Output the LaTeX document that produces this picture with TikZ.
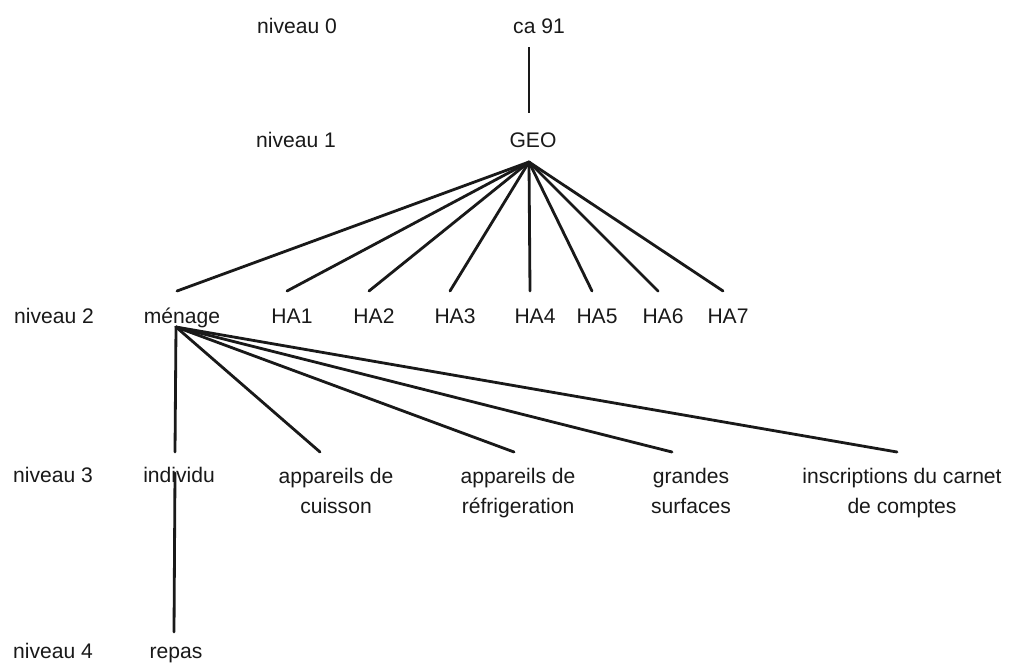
\documentclass[tikz,border=0pt]{standalone}
\usepackage{fontspec}
\setmainfont{Liberation Sans}
\usetikzlibrary{calc}
\tikzset{
    lbl/.style={anchor=base, inner sep=0pt, text=black!90, font=\fontsize{12}{17}\selectfont},
    twoline/.style={lbl, align=center},
    link/.style={line width=1.6pt, line cap=round, black!90},
    thinlink/.style={line width=1.1pt, black!90}
}
\begin{document}
\begin{tikzpicture}[x=0.02cm, y=-0.02cm]
    \useasboundingbox (0,0) rectangle (1010,667);
    % niveaux
    \node[lbl] (niv0) at (297,33) {niveau 0};
    \node[lbl] (niv1) at (296,147) {niveau 1};
    \node[lbl] (niv2) at (54,323) {niveau 2};
    \node[lbl] (niv3) at (53,482) {niveau 3};
    \node[lbl] (niv4) at (53,658) {niveau 4};
    % arbre
    \node[lbl] (ca91) at (539,33) {ca 91};
    \node[lbl] (geo) at (533,147) {GEO};
    \node[lbl] (menage) at (182,323) {ménage};
    \node[lbl] (ha1) at (292,323) {HA1};
    \node[lbl] (ha2) at (374,323) {HA2};
    \node[lbl] (ha3) at (455,323) {HA3};
    \node[lbl] (ha4) at (535,323) {HA4};
    \node[lbl] (ha5) at (597,323) {HA5};
    \node[lbl] (ha6) at (663,323) {HA6};
    \node[lbl] (ha7) at (728,323) {HA7};
    \node[lbl] (individu) at (179,482) {individu};
    % base = second line for two-line labels
    \node[twoline] (cuisson) at (336,513) {appareils de\\cuisson};
    \node[twoline] (refrig) at (518,513) {appareils de\\réfrigeration};
    \node[twoline] (surfaces) at (691,513) {grandes\\surfaces};
    \node[twoline] (carnet) at (902,513) {inscriptions du carnet\\de comptes};
    \node[lbl] (repas) at (176,658) {repas};

    \coordinate (geo-fan) at ([shift={(-4,15)}]geo.base);
    \coordinate (men-fan) at ([shift={(-6,4)}]menage.base);

    \draw[thinlink] ([shift={(-10,14)}]ca91.base) -- ([shift={(-4,-34)}]geo.base);
    \foreach \ha in {menage,ha1,ha2,ha3,ha4,ha5,ha6,ha7}
        \draw[link] (geo-fan) -- ([shift={(-5,-32)}]\ha.base);
    \foreach \sub/\dx/\dy in {individu/-4/-30, cuisson/-16/-61, refrig/-4/-61, surfaces/-19/-61, carnet/-5/-61}
        \draw[link] (men-fan) -- ([shift={(\dx,\dy)}]\sub.base);
    \draw[link] ([shift={(-4,-9)}]individu.base) -- ([shift={(-2,-26)}]repas.base);
\end{tikzpicture}
\end{document}
